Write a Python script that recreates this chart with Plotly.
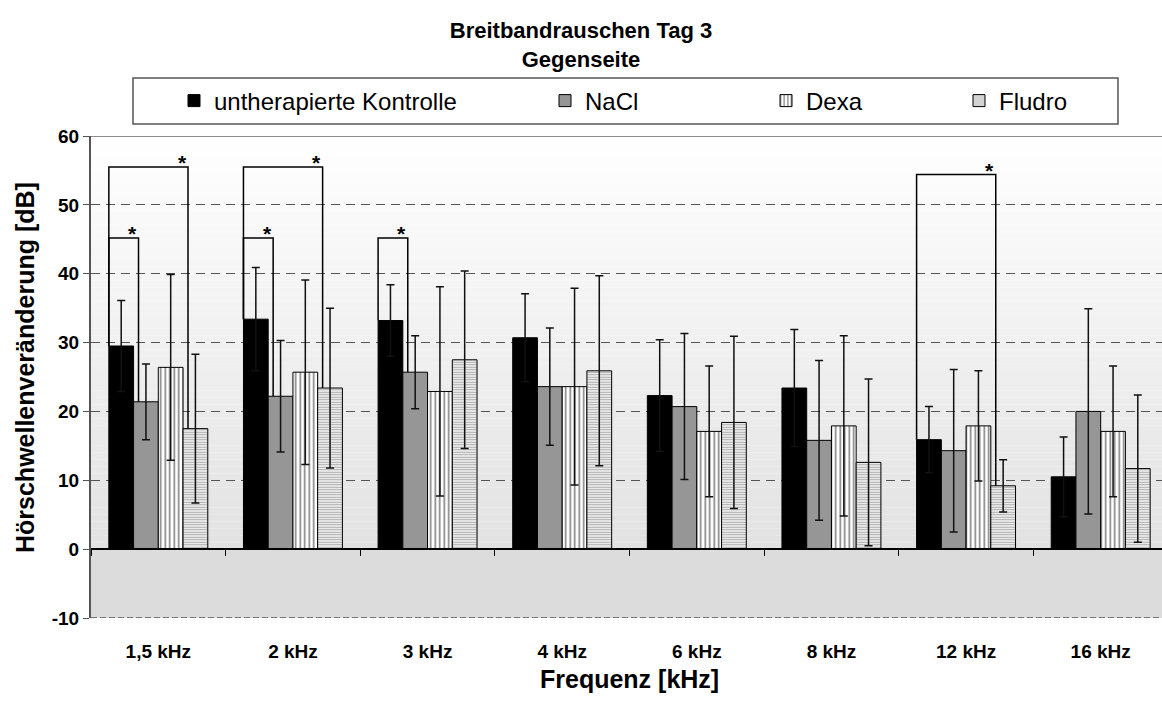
import plotly.graph_objects as go

categories = ["1,5 kHz", "2 kHz", "3 kHz", "4 kHz", "6 kHz", "8 kHz", "12 kHz", "16 kHz"]
series_names = ["untherapierte Kontrolle", "NaCl", "Dexa", "Fludro"]
kontrolle = [29.5, 33.4, 33.2, 30.7, 22.3, 23.4, 15.9, 10.5]
kontrolle_sd = [6.6, 7.5, 5.2, 6.4, 8.1, 8.5, 4.8, 5.8]
nacl = [21.4, 22.2, 25.7, 23.6, 20.7, 15.8, 14.3, 20.0]
nacl_sd = [5.5, 8.1, 5.3, 8.5, 10.6, 11.6, 11.8, 14.9]
dexa = [26.4, 25.7, 22.9, 23.6, 17.1, 17.9, 17.9, 17.1]
dexa_sd = [13.5, 13.4, 15.2, 14.3, 9.5, 13.1, 8.0, 9.5]
fludro = [17.5, 23.4, 27.5, 25.9, 18.4, 12.6, 9.2, 11.7]
fludro_sd = [10.8, 11.6, 12.9, 13.8, 12.5, 12.1, 3.8, 10.7]
y_ticks = [-10, 0, 10, 20, 30, 40, 50, 60]
y_tick_labels = ["-10", "0", "10", "20", "30", "40", "50", "60"]
# significance brackets: (category index, compared series index, bracket height)
brackets = [(0, 1, 45.2), (0, 3, 55.5), (1, 1, 45.2), (1, 3, 55.5), (2, 1, 45.2), (6, 3, 54.4)]

FONT = "Liberation Sans, Arial, sans-serif"
values = [kontrolle, nacl, dexa, fludro]
sds = [kontrolle_sd, nacl_sd, dexa_sd, fludro_sd]

styles = [
    dict(color="#000000"),
    dict(color="#969696"),
    dict(color="#ffffff", pattern=dict(shape="|", size=4.5, solidity=0.35, fgcolor="#000000", bgcolor="#ffffff", fillmode="overlay")),
    dict(color="#ffffff", pattern=dict(shape="-", size=2.5, solidity=0.5, fgcolor="#505050", bgcolor="#ffffff", fillmode="overlay")),
]

# pixel layout of reference
L, R_, T, B = 91, 1162, 136, 618
W, H = R_ - L, B - T
def px_x(p):
    return (p - L) / W
def px_y(p):
    return (B - p) / H

legend_left_px = [174, 545, 766, 959]
fig = go.Figure()
for k in range(4):
    fig.add_trace(go.Bar(
        x=categories, y=values[k], name=series_names[k],
        marker=dict(**styles[k], line=dict(color="#000000", width=1)),
        error_y=dict(type="data", array=sds[k], visible=True, color="#111111", thickness=1.5, width=4),
        legend="legend" if k == 0 else f"legend{k+1}",
    ))

# helper axis at y=0 with boundary ticks
fig.add_trace(go.Scatter(x=categories, y=[None] * len(categories), xaxis="x2", showlegend=False, hoverinfo="skip"))

bargap = 0.265
group_w = 1 - bargap
bar_w = group_w / 4
shapes = []
annotations = []
# background gradient above zero
n_strips = 60
for s in range(n_strips):
    y0 = 60 * s / n_strips
    y1 = 60 * (s + 1) / n_strips
    t = (s + 0.5) / n_strips
    c = int(round(0xe2 + (0xff - 0xe2) * t))
    shapes.append(dict(type="rect", xref="paper", yref="y", x0=0, x1=1, y0=y0, y1=y1,
                       fillcolor=f"rgb({c},{c},{c})", line=dict(width=0), layer="below"))
shapes.append(dict(type="rect", xref="paper", yref="y", x0=0, x1=1, y0=-10, y1=0,
                   fillcolor="#dcdcdc", line=dict(width=0), layer="below"))
# top and bottom borders
shapes.append(dict(type="line", xref="paper", yref="y", x0=0, x1=1, y0=60, y1=60,
                   line=dict(color="#8c8c8c", width=2)))
shapes.append(dict(type="line", xref="paper", yref="y", x0=0, x1=1, y0=-10, y1=-10,
                   line=dict(color="#777777", width=2, dash="6px,3px")))

for ci, si, h in brackets:
    xl = ci - group_w / 2
    xr = ci - group_w / 2 + si * bar_w + 0.2 * bar_w
    yl = values[0][ci]
    yr = values[si][ci]
    shapes.append(dict(type="path", xref="x", yref="y",
                       path=f"M {xl},{yl} L {xl},{h} L {xr},{h} L {xr},{yr}",
                       line=dict(color="#000000", width=1.5)))
    annotations.append(dict(x=xr, y=h, xref="x", yref="y", text="<b>*</b>", showarrow=False,
                            xanchor="center", yanchor="bottom", xshift=-6, yshift=-9,
                            font=dict(family=FONT, size=21, color="#000000")))

# legend frame
shapes.append(dict(type="rect", xref="paper", yref="paper", x0=px_x(133), x1=px_x(1118),
                   y0=px_y(124), y1=px_y(78), line=dict(color="#555555", width=1.5), fillcolor="#ffffff", layer="below"))

# axis titles
annotations.append(dict(x=px_x(629.5), y=px_y(679), xref="paper", yref="paper", text="<b>Frequenz [kHz]</b>",
                        showarrow=False, xanchor="center", yanchor="middle",
                        font=dict(family=FONT, size=25, color="#000000")))
annotations.append(dict(x=px_x(25), y=px_y(368), xref="paper", yref="paper", text="<b>Hörschwellenveränderung [dB]</b>",
                        showarrow=False, xanchor="center", yanchor="middle", textangle=-90,
                        font=dict(family=FONT, size=25, color="#000000")))

legend_common = dict(orientation="h", xanchor="left", yanchor="middle", y=px_y(101),
                     bgcolor="rgba(0,0,0,0)", borderwidth=0,
                     font=dict(family=FONT, size=24, color="#000000"))
layout_legends = {}
for k in range(4):
    key = "legend" if k == 0 else f"legend{k+1}"
    layout_legends[key] = dict(x=px_x(legend_left_px[k]), **legend_common)

fig.update_layout(
    width=1162, height=701,
    margin=dict(l=L, r=0, t=T, b=701 - B, pad=0),
    paper_bgcolor="#ffffff", plot_bgcolor="#ffffff",
    barmode="group", bargap=bargap, bargroupgap=0,
    title=dict(text="<b>Breitbandrauschen Tag 3<br>Gegenseite</b>", x=0.5, xanchor="center",
               y=1 - 38 / 701, yanchor="top", yref="container",
               font=dict(family=FONT, size=22, color="#000000")),
    xaxis=dict(type="category", categoryorder="array", categoryarray=categories,
               range=[-0.5, -0.5 + 8 * W / (1168 - L)], showline=False, showgrid=False, zeroline=False,
               ticks="", ticklabelstandoff=20,
               tickfont=dict(family=FONT, size=19, color="#000000", weight="bold")),
    xaxis2=dict(type="category", overlaying="x", matches="x", anchor="free", position=10 / 70, side="bottom",
                showline=True, linecolor="#000000", linewidth=1.5, ticks="outside", tickson="boundaries",
                ticklen=6, tickcolor="#000000", tickwidth=1, showticklabels=False, showgrid=False, zeroline=False),
    yaxis=dict(range=[-10, 60], tickvals=y_ticks, ticktext=y_tick_labels, showline=True, linecolor="#555555", linewidth=2,
               ticks="outside", ticklen=6, tickcolor="#555555", tickwidth=1,
               showgrid=True, gridcolor="#555555", gridwidth=1, griddash="9px,6px",
               zeroline=False,
               tickfont=dict(family=FONT, size=19, color="#000000", weight="bold")),
    shapes=shapes, annotations=annotations,
    showlegend=True,
    **layout_legends,
)

fig.write_html("out.html")
